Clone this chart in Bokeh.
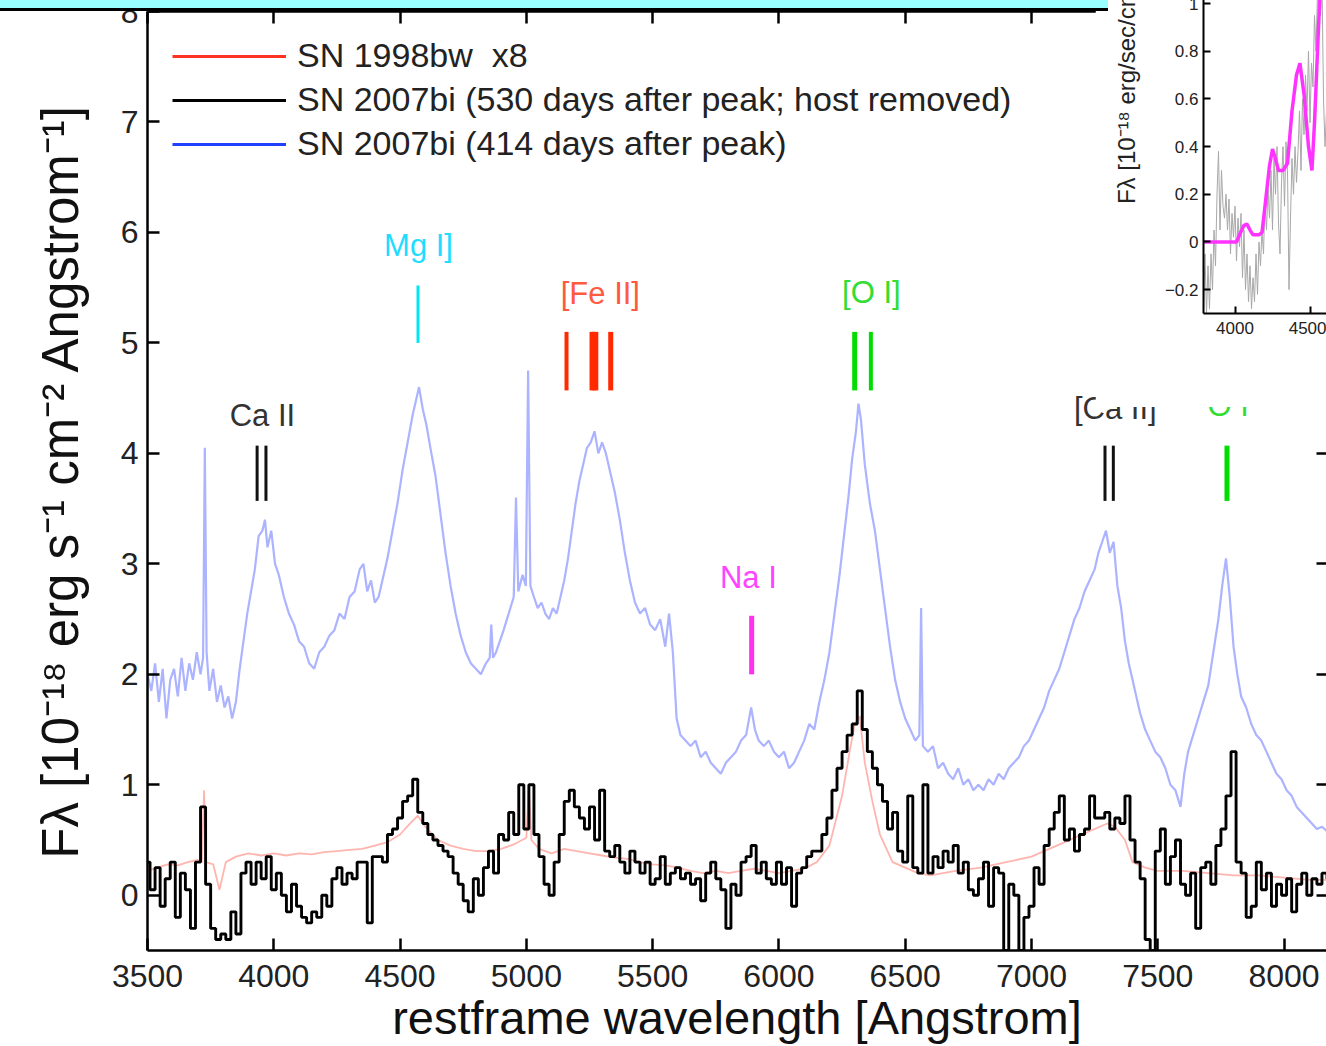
import math
from bokeh.plotting import figure
from bokeh.models import (Range1d, LinearAxis, FixedTicker, Legend, LegendItem,
                          GridBox, Column, Div, ColumnDataSource)
from bokeh.embed import file_html
from bokeh.resources import INLINE
from bokeh.core.properties import value

FONT = "Liberation Sans"
NAN = float("nan")

# ---------------------------------------------------------------- data
x_ticks = [3500, 4000, 4500, 5000, 5500, 6000, 6500, 7000, 7500, 8000]
y_ticks = [0, 1, 2, 3, 4, 5, 6, 7, 8]

legend_labels = ["SN 1998bw  x8",
                 "SN 2007bi (530 days after peak; host removed)",
                 "SN 2007bi (414 days after peak)"]

# SN 2007bi, 414 days after peak
blue_wave = [3500, 3515, 3530, 3545, 3560, 3575, 3590, 3605, 3620, 3635,
             3650, 3665, 3680, 3695, 3710, 3720, 3727, 3734, 3745, 3760,
             3775, 3790, 3805, 3820, 3835, 3850, 3865, 3880, 3895, 3910,
             3925, 3940, 3955, 3965, 3975, 3990, 4005, 4020, 4040, 4060,
             4080, 4100, 4120, 4140, 4160, 4180, 4200, 4220, 4240, 4260,
             4280, 4300, 4320, 4340, 4355, 4370, 4385, 4400, 4415, 4430,
             4450, 4470, 4490, 4510, 4530, 4550, 4565, 4575, 4590, 4605,
             4620, 4640, 4660, 4680, 4700, 4720, 4740, 4760, 4780, 4800,
             4820, 4840, 4855, 4861, 4868, 4880, 4895, 4910, 4930, 4950,
             4959, 4968, 4985, 4998, 5007, 5016, 5030, 5045, 5060, 5075,
             5090, 5105, 5120, 5135, 5150, 5165, 5180, 5195, 5210, 5225,
             5240, 5255, 5270, 5285, 5300, 5315, 5330, 5350, 5370, 5390,
             5410, 5430, 5450, 5470, 5490, 5510, 5530, 5550, 5565, 5580,
             5595, 5610, 5630, 5650, 5670, 5690, 5710, 5730, 5750, 5770,
             5790, 5810, 5830, 5850, 5870, 5890, 5905, 5920, 5940, 5960,
             5980, 6000, 6020, 6040, 6060, 6080, 6100, 6120, 6140, 6160,
             6180, 6200, 6220, 6240, 6260, 6275, 6290, 6305, 6315, 6325,
             6340, 6360, 6380, 6400, 6420, 6440, 6460, 6480, 6500, 6520,
             6540, 6556, 6563, 6570, 6590, 6610, 6630, 6650, 6670, 6690,
             6710, 6730, 6750, 6770, 6790, 6810, 6830, 6850, 6870, 6890,
             6910, 6930, 6950, 6970, 6990, 7010, 7030, 7050, 7070, 7090,
             7110, 7130, 7150, 7170, 7190, 7210, 7230, 7250, 7265, 7280,
             7295, 7310, 7325, 7340, 7355, 7370, 7385, 7400, 7415, 7430,
             7450, 7470, 7490, 7510, 7530, 7550, 7570, 7590, 7605, 7620,
             7640, 7660, 7680, 7700, 7720, 7740, 7755, 7770, 7785, 7800,
             7815, 7830, 7850, 7870, 7890, 7910, 7930, 7950, 7970, 7990,
             8010, 8030, 8050, 8070, 8090, 8110, 8130, 8150, 8170]
blue_flux = [2.00, 1.85, 2.10, 1.75, 2.05, 1.60, 1.95, 2.05, 1.80, 2.15,
             1.85, 2.10, 1.95, 2.20, 2.00, 2.15, 4.05, 2.20, 1.85, 2.05,
             1.75, 1.90, 1.70, 1.80, 1.60, 1.75, 2.05, 2.30, 2.55, 2.75,
             2.95, 3.25, 3.30, 3.40, 3.15, 3.30, 3.00, 2.90, 2.70, 2.55,
             2.45, 2.30, 2.25, 2.10, 2.05, 2.20, 2.25, 2.35, 2.40, 2.55,
             2.50, 2.70, 2.75, 2.95, 3.00, 2.75, 2.85, 2.65, 2.70, 2.85,
             3.05, 3.30, 3.55, 3.85, 4.10, 4.35, 4.50, 4.60, 4.40, 4.25,
             4.05, 3.80, 3.45, 3.10, 2.80, 2.55, 2.35, 2.20, 2.10, 2.05,
             2.00, 2.10, 2.15, 2.45, 2.15, 2.20, 2.30, 2.40, 2.55, 2.70,
             3.60, 2.75, 2.90, 2.80, 4.75, 2.80, 2.70, 2.60, 2.65, 2.55,
             2.50, 2.60, 2.55, 2.70, 2.85, 3.05, 3.30, 3.55, 3.75, 3.90,
             4.05, 4.10, 4.20, 4.00, 4.10, 4.00, 3.85, 3.65, 3.40, 3.10,
             2.85, 2.65, 2.55, 2.60, 2.45, 2.40, 2.50, 2.25, 2.55, 2.20,
             1.60, 1.45, 1.40, 1.35, 1.40, 1.25, 1.30, 1.20, 1.15, 1.10,
             1.20, 1.25, 1.30, 1.40, 1.45, 1.70, 1.50, 1.40, 1.35, 1.40,
             1.30, 1.25, 1.30, 1.15, 1.20, 1.30, 1.40, 1.55, 1.50, 1.75,
             1.95, 2.20, 2.55, 2.90, 3.30, 3.60, 3.95, 4.20, 4.45, 4.30,
             3.90, 3.55, 3.30, 2.95, 2.60, 2.25, 1.95, 1.75, 1.60, 1.50,
             1.40, 1.45, 2.60, 1.35, 1.30, 1.35, 1.15, 1.20, 1.10, 1.05,
             1.15, 1.00, 1.05, 0.95, 1.00, 0.95, 1.05, 1.00, 1.10, 1.05,
             1.15, 1.20, 1.25, 1.35, 1.40, 1.50, 1.60, 1.70, 1.85, 1.95,
             2.05, 2.20, 2.35, 2.50, 2.60, 2.75, 2.85, 2.95, 3.10, 3.20,
             3.30, 3.10, 3.20, 2.80, 2.60, 2.30, 2.10, 1.95, 1.80, 1.65,
             1.50, 1.40, 1.30, 1.25, 1.15, 1.00, 0.95, 0.80, 1.10, 1.30,
             1.45, 1.60, 1.75, 1.90, 2.20, 2.50, 2.80, 3.05, 2.70, 2.25,
             2.00, 1.80, 1.70, 1.55, 1.45, 1.40, 1.30, 1.20, 1.10, 1.05,
             0.95, 0.90, 0.80, 0.75, 0.70, 0.65, 0.60, 0.62, 0.58]

# SN 1998bw (x8)
red_wave = [3500, 3540, 3580, 3620, 3660, 3700, 3715, 3724, 3732, 3760,
            3785, 3810, 3850, 3900, 3950, 4000, 4050, 4100, 4150, 4200,
            4250, 4300, 4350, 4400, 4450, 4500, 4540, 4570, 4600, 4650,
            4700, 4750, 4800, 4850, 4900, 4950, 5000, 5010, 5020, 5050,
            5100, 5150, 5200, 5250, 5300, 5350, 5400, 5450, 5500, 5550,
            5600, 5650, 5700, 5750, 5800, 5850, 5900, 5950, 6000, 6050,
            6100, 6150, 6200, 6250, 6280, 6300, 6320, 6340, 6370, 6400,
            6450, 6500, 6550, 6600, 6650, 6700, 6800, 6900, 7000, 7100,
            7200, 7250, 7300, 7330, 7370, 7400, 7450, 7500, 7600, 7700,
            7800, 7900, 8000, 8100, 8170]
red_flux = [0.22, 0.25, 0.28, 0.27, 0.30, 0.32, 0.30, 0.95, 0.30, 0.28,
            0.05, 0.30, 0.35, 0.38, 0.36, 0.38, 0.36, 0.38, 0.37, 0.39,
            0.40, 0.41, 0.42, 0.45, 0.48, 0.55, 0.65, 0.72, 0.62, 0.50,
            0.45, 0.42, 0.40, 0.40, 0.42, 0.46, 0.52, 0.98, 0.50, 0.42,
            0.38, 0.42, 0.40, 0.38, 0.36, 0.34, 0.33, 0.30, 0.28, 0.27,
            0.25, 0.22, 0.20, 0.22, 0.20, 0.22, 0.24, 0.22, 0.20, 0.22,
            0.24, 0.30, 0.45, 0.90, 1.30, 1.55, 1.62, 1.20, 0.85, 0.55,
            0.30, 0.25, 0.20, 0.18, 0.20, 0.22, 0.25, 0.30, 0.35, 0.45,
            0.55, 0.60, 0.65, 0.62, 0.50, 0.30, 0.25, 0.22, 0.22, 0.20,
            0.18, 0.18, 0.16, 0.14, 0.14]

# SN 2007bi, 530 days after peak, host removed (binned)
black_wave = [3500, 3520, 3540, 3560, 3580, 3600, 3620, 3640, 3660, 3680,
              3700, 3720, 3740, 3760, 3780, 3800, 3820, 3840, 3860, 3880,
              3900, 3920, 3940, 3960, 3980, 4000, 4020, 4040, 4060, 4080,
              4100, 4120, 4140, 4160, 4180, 4200, 4220, 4240, 4260, 4280,
              4300, 4320, 4340, 4360, 4380, 4400, 4420, 4440, 4460, 4480,
              4500, 4520, 4540, 4560, 4580, 4600, 4620, 4640, 4660, 4680,
              4700, 4720, 4740, 4760, 4780, 4800, 4820, 4840, 4860, 4880,
              4900, 4920, 4940, 4960, 4980, 5000, 5020, 5040, 5060, 5080,
              5100, 5120, 5140, 5160, 5180, 5200, 5220, 5240, 5260, 5280,
              5300, 5320, 5340, 5360, 5380, 5400, 5420, 5440, 5460, 5480,
              5500, 5520, 5540, 5560, 5580, 5600, 5620, 5640, 5660, 5680,
              5700, 5720, 5740, 5760, 5780, 5800, 5820, 5840, 5860, 5880,
              5900, 5920, 5940, 5960, 5980, 6000, 6020, 6040, 6060, 6080,
              6100, 6120, 6140, 6160, 6180, 6200, 6220, 6240, 6260, 6280,
              6300, 6320, 6340, 6360, 6380, 6400, 6420, 6440, 6460, 6480,
              6500, 6520, 6540, 6560, 6580, 6600, 6620, 6640, 6660, 6680,
              6700, 6720, 6740, 6760, 6780, 6800, 6820, 6840, 6860, 6880,
              6900, 6920, 6940, 6960, 6980, 7000, 7020, 7040, 7060, 7080,
              7100, 7120, 7140, 7160, 7180, 7200, 7220, 7240, 7260, 7280,
              7300, 7320, 7340, 7360, 7380, 7400, 7420, 7440, 7460, 7480,
              7500, 7520, 7540, 7560, 7580, 7600, 7620, 7640, 7660, 7680,
              7700, 7720, 7740, 7760, 7780, 7800, 7820, 7840, 7860, 7880,
              7900, 7920, 7940, 7960, 7980, 8000, 8020, 8040, 8060, 8080,
              8100, 8120, 8140, 8160, 8180]
black_flux = [0.30, 0.05, 0.25, -0.10, 0.15, 0.30, -0.20, 0.20, 0.05, -0.30,
              0.30, 0.80, 0.10, -0.30, -0.40, -0.35, -0.40, -0.15, -0.35, 0.20,
              0.30, 0.10, 0.30, 0.15, 0.35, 0.05, 0.20, 0.00, -0.15, 0.10,
              -0.10, -0.20, -0.25, -0.15, -0.20, 0.00, -0.10, 0.15, 0.25, 0.10,
              0.20, 0.15, 0.30, 0.30, -0.25, 0.35, 0.35, 0.30, 0.55, 0.60,
              0.70, 0.85, 0.90, 1.05, 0.75, 0.65, 0.55, 0.50, 0.45, 0.40,
              0.35, 0.20, 0.10, -0.05, -0.15, 0.15, 0.00, 0.25, 0.40, 0.20,
              0.55, 0.50, 0.75, 0.55, 1.00, 0.60, 1.00, 0.55, 0.35, 0.10,
              0.00, 0.30, 0.55, 0.85, 0.95, 0.80, 0.70, 0.60, 0.80, 0.50,
              0.95, 0.40, 0.35, 0.45, 0.30, 0.20, 0.40, 0.30, 0.20, 0.30,
              0.10, 0.15, 0.35, 0.10, 0.20, 0.25, 0.15, 0.20, 0.10, 0.15,
              -0.05, 0.20, 0.30, 0.15, 0.05, -0.30, 0.10, 0.00, 0.30, 0.35,
              0.45, 0.20, 0.30, 0.15, 0.10, 0.30, 0.10, 0.25, -0.10, 0.20,
              0.25, 0.35, 0.40, 0.40, 0.55, 0.70, 0.95, 1.15, 1.30, 1.45,
              1.55, 1.85, 1.50, 1.30, 1.15, 1.00, 0.85, 0.60, 0.75, 0.40,
              0.30, 0.90, 0.25, 0.20, 1.00, 0.20, 0.35, 0.25, 0.40, 0.30,
              0.45, 0.20, 0.30, 0.05, 0.00, 0.15, 0.30, -0.10, 0.25, 0.20,
              -0.50, 0.10, 0.00, -0.50, -0.20, -0.10, 0.25, 0.10, 0.45, 0.60,
              0.75, 0.90, 0.50, 0.60, 0.40, 0.55, 0.60, 0.90, 0.70, 0.70,
              0.75, 0.60, 0.70, 0.65, 0.90, 0.50, 0.30, 0.15, -0.40, -0.50,
              0.40, 0.60, 0.10, 0.35, 0.50, 0.10, 0.00, 0.20, -0.30, 0.25,
              0.30, 0.10, 0.45, 0.60, 0.90, 1.30, 0.30, 0.20, -0.20, -0.10,
              0.30, 0.05, 0.20, -0.10, 0.10, 0.00, 0.15, -0.15, 0.10, 0.20,
              0.00, 0.15, 0.10, 0.20, 0.15]

# line identifications (rest wavelengths, Angstrom)
line_ions = ["Ca II", "Ca II", "Mg I]", "[Fe II]", "[Fe II]", "[Fe II]", "[Fe II]",
             "Na I", "[O I]", "[O I]", "[Ca II]", "[Ca II]", "O I"]
line_waves = [3934, 3969, 4571, 5159, 5262, 5273, 5334,
              5892, 6300, 6364, 7291, 7324, 7774]
label_texts = ["Ca II", "Mg I]", "[Fe II]", "Na I", "[O I]", "[Ca II]", "O I"]
label_waves = [3955, 4573, 5293, 5879, 6366, 7332, 7779]

# inset
inset_gray_wave = [3790, 3800, 3810, 3820, 3830, 3840, 3850, 3860, 3870, 3880,
                   3890, 3900, 3910, 3920, 3930, 3940, 3950, 3960, 3970, 3980,
                   3990, 4000, 4010, 4020, 4030, 4040, 4050, 4060, 4070, 4080,
                   4090, 4100, 4110, 4120, 4130, 4140, 4150, 4160, 4170, 4180,
                   4190, 4200, 4210, 4220, 4230, 4240, 4250, 4260, 4270, 4280,
                   4290, 4300, 4310, 4320, 4330, 4340, 4350, 4360, 4370, 4380,
                   4390, 4400, 4410, 4420, 4430, 4440, 4450, 4460, 4470, 4480,
                   4490, 4500, 4510, 4520, 4530, 4540, 4550, 4560, 4570, 4580,
                   4590, 4600, 4610]
inset_gray_flux = [-0.30, -0.05, -0.30, -0.10, -0.28, -0.05, -0.20, 0.05, -0.10, 0.20,
                   0.38, 0.05, 0.30, 0.15, 0.10, 0.20, 0.05, 0.18, -0.05, 0.12,
                   0.02, 0.15, -0.08, 0.10, -0.02, 0.12, -0.15, 0.05, -0.20, -0.05,
                   -0.25, -0.10, -0.28, -0.15, -0.25, -0.05, -0.22, 0.00, -0.10, 0.05,
                   -0.05, 0.18, 0.05, 0.22, 0.10, 0.30, 0.05, 0.35, 0.20, 0.40,
                   0.08, -0.05, 0.25, 0.40, 0.15, 0.42, 0.30, -0.20, 0.10, 0.35,
                   0.20, 0.40, 0.25, 0.38, 0.55, 0.30, 0.60, 0.45, 0.70, 0.55,
                   0.80, 0.50, 0.75, 0.65, 0.95, 0.80, 1.05, 1.10, 0.95, 1.10,
                   0.60, 0.40, 0.55]
inset_model_wave = [3790, 3950, 4010, 4030, 4060, 4080, 4100, 4120, 4160, 4180,
                    4200, 4230, 4250, 4265, 4290, 4320, 4350, 4380, 4410, 4433,
                    4460, 4490, 4513, 4530, 4550, 4567, 4590, 4610]
inset_model_flux = [0.00, 0.00, 0.00, 0.03, 0.07, 0.075, 0.05, 0.03, 0.03, 0.04,
                    0.15, 0.32, 0.39, 0.36, 0.30, 0.30, 0.33, 0.55, 0.70, 0.75,
                    0.62, 0.40, 0.30, 0.50, 0.80, 1.05, 1.20, 1.10]
inset_x_ticks = [4000, 4500]
inset_y_ticks = [-0.2, 0, 0.2, 0.4, 0.6, 0.8, 1.0]
inset_y_labels = {-0.2: "\u22120.2", 0: "0", 0.2: "0.2", 0.4: "0.4",
                  0.6: "0.6", 0.8: "0.8", 1.0: "1"}

# ---------------------------------------------------------------- styles
ion_style = {
    "Ca II":   dict(line="#111111", text="#333333", y0=3.57, y1=4.07, ty=4.34),
    "Mg I]":   dict(line="#00e6f2", text="#22dcff", y0=5.00, y1=5.52, ty=5.88),
    "[Fe II]": dict(line="#ff2a00", text="#ff5a40", y0=4.57, y1=5.10, ty=5.45),
    "Na I":    dict(line="#ff30f0", text="#ff44ff", y0=2.00, y1=2.53, ty=2.88),
    "[O I]":   dict(line="#00dd00", text="#33dd33", y0=4.57, y1=5.10, ty=5.46),
    "[Ca II]": dict(line="#111111", text="#333333", y0=3.57, y1=4.07, ty=4.41),
    "O I":     dict(line="#00dd00", text="#33dd33", y0=3.57, y1=4.07, ty=4.43),
}
line_widths = [3, 3, 3, 4, 6, 6, 5, 5, 5, 4, 3, 3, 5]

W, H = 1326, 1046

p = figure(width=W, height=H, x_range=Range1d(3500, 8168), y_range=Range1d(-0.5, 8),
           output_backend="svg", toolbar_location=None,
           min_border_left=147, min_border_right=0, min_border_top=11, min_border_bottom=96)
p.outline_line_color = None
p.xgrid.visible = False
p.ygrid.visible = False
p.background_fill_color = "white"
p.border_fill_color = "white"


def style_axis(ax, tick_in=12, lw=2.5, size="32px"):
    ax.major_tick_in = tick_in
    ax.major_tick_out = 0
    ax.minor_tick_line_color = None
    ax.axis_line_width = lw
    ax.major_tick_line_width = lw
    ax.axis_line_color = "black"
    ax.major_tick_line_color = "black"
    ax.major_label_text_font = FONT
    ax.major_label_text_font_size = size
    ax.major_label_text_color = "#222222"


xa = p.xaxis[0]
ya = p.yaxis[0]
style_axis(xa)
style_axis(ya)
xa.ticker = FixedTicker(ticks=x_ticks)
ya.ticker = FixedTicker(ticks=y_ticks)
xa.major_label_standoff = 14
ya.major_label_standoff = 9
xa.axis_label = "restframe wavelength [Angstrom]"
ya.axis_label = "Fλ [10⁻¹⁸ erg s⁻¹ cm⁻² Angstrom⁻¹]"
for ax in (xa, ya):
    ax.axis_label_text_font = FONT
    ax.axis_label_text_font_style = "normal"
    ax.axis_label_text_color = "#111111"
xa.axis_label_text_font_size = "47px"
ya.axis_label_text_font_size = "51px"
xa.axis_label_standoff = 1
ya.axis_label_standoff = 29

top_ax = LinearAxis(ticker=FixedTicker(ticks=x_ticks))
style_axis(top_ax)
top_ax.major_label_text_font_size = "1px"
top_ax.major_label_text_color = None
top_ax.major_label_standoff = 0
p.add_layout(top_ax, "above")

right_ax = LinearAxis(ticker=FixedTicker(ticks=y_ticks))
style_axis(right_ax, tick_in=10)
right_ax.axis_line_color = None
right_ax.major_label_text_font_size = "1px"
right_ax.major_label_text_color = None
right_ax.major_label_standoff = 0
p.add_layout(right_ax, "right")

# spectra
p.line(blue_wave, blue_flux, line_color="#1a2cff", line_alpha=0.36, line_width=2.2)
p.line(red_wave, red_flux, line_color="#ff2a1a", line_alpha=0.35, line_width=1.8)
p.step(black_wave, black_flux, mode="center", line_color="black", line_width=2.9)

# line markers
seg_src = ColumnDataSource(dict(
    x=line_waves,
    y0=[ion_style[i]["y0"] for i in line_ions],
    y1=[ion_style[i]["y1"] for i in line_ions],
    c=[ion_style[i]["line"] for i in line_ions],
    w=line_widths,
))
p.segment(x0="x", x1="x", y0="y0", y1="y1", line_color="c", line_width="w",
          source=seg_src)

lab_src = ColumnDataSource(dict(
    x=label_waves,
    y=[ion_style[t]["ty"] for t in label_texts],
    t=label_texts,
    c=[ion_style[t]["text"] for t in label_texts],
))
p.text(x="x", y="y", text="t", text_color="c", source=lab_src,
       text_font=value(FONT), text_font_size="31px",
       text_align="center", text_baseline="middle")

# legend (full-colour samples; renderers hold no visible points)
legend_colors = ["#ff3322", "#000000", "#2040ff"]
items = []
for lbl, col in zip(legend_labels, legend_colors):
    r = p.line([NAN], [NAN], line_color=col, line_width=3)
    items.append(LegendItem(label=lbl, renderers=[r]))
legend = Legend(items=items, location="top_left", margin=25, padding=0,
                spacing=5, glyph_width=114, glyph_height=34, label_height=34,
                label_standoff=11, label_text_font=FONT, label_text_font_size="34px",
                label_text_color="#222222", border_line_color=None,
                background_fill_alpha=0)
p.add_layout(legend)

# ---------------------------------------------------------------- inset
# canvas shifted 160 px above the page top, so that its upper part is cut off
ins = figure(width=231, height=567, x_range=Range1d(3790, 4610), y_range=Range1d(-0.3, 1.684),
             output_backend="svg", toolbar_location=None,
             min_border_left=108, min_border_right=0, min_border_top=0, min_border_bottom=94)
ins.outline_line_color = None
ins.xgrid.visible = False
ins.ygrid.visible = False
ins.background_fill_color = "white"
ins.border_fill_color = "white"
ins.line(inset_gray_wave, inset_gray_flux, line_color="#a8a8a8", line_width=1)
ins.line(inset_model_wave, inset_model_flux, line_color="#ff33ff", line_width=3.5)
for ax in (ins.xaxis[0], ins.yaxis[0]):
    style_axis(ax, tick_in=7, lw=2, size="17px")
ins.xaxis[0].major_label_standoff = 8
ins.yaxis[0].major_label_standoff = 5
ins.xaxis[0].ticker = FixedTicker(ticks=inset_x_ticks)
ins.yaxis[0].ticker = FixedTicker(ticks=inset_y_ticks)
ins.yaxis[0].major_label_overrides = inset_y_labels
ins.yaxis[0].axis_label = "Fλ [10⁻¹⁸ erg/sec/cm²/Å]"
ins.yaxis[0].axis_label_text_font = FONT
ins.yaxis[0].axis_label_text_font_size = "24px"
ins.yaxis[0].axis_label_text_font_style = "normal"
ins.yaxis[0].axis_label_text_color = "#222222"
ins.yaxis[0].axis_label_standoff = 22

ins_box = Column(children=[ins], styles={"margin-left": "1095px", "margin-top": "-160px"})

bar = Div(text="", width=1108, height=11, margin=0,
          styles={"background-color": "#99ffff", "border-bottom": "3px solid #000000"})

p.margin = 0
root = GridBox(children=[(p, 0, 0), (ins_box, 0, 0), (bar, 0, 0)])

open("out.html", "w").write(file_html(root, INLINE))
